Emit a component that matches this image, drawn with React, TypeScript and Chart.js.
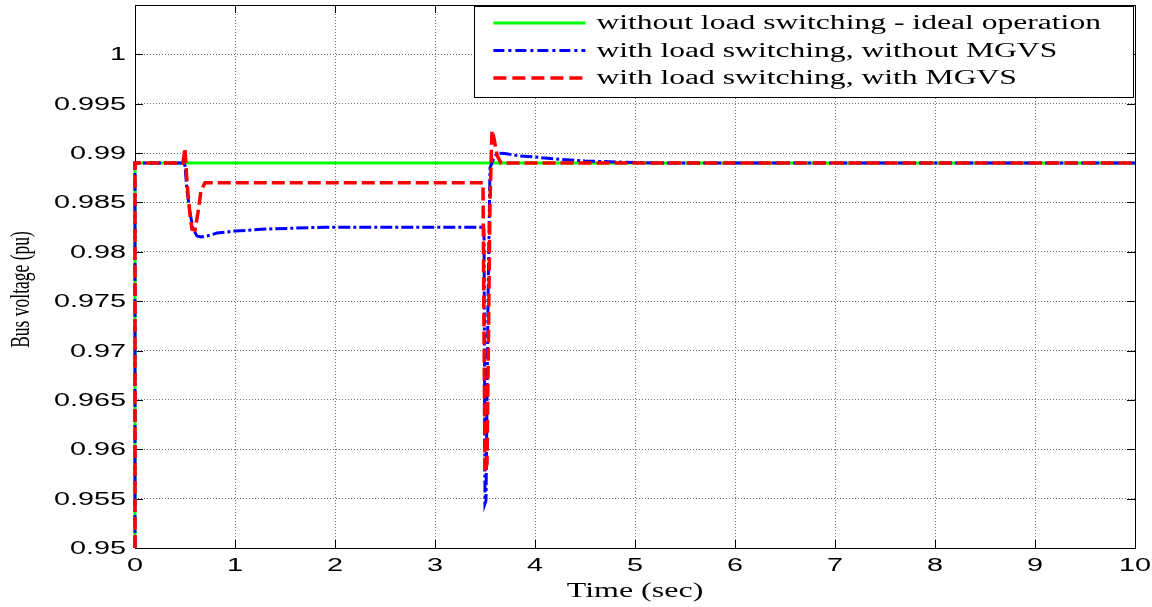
import React, { useEffect, useRef } from "react";
import { Chart, registerables } from "chart.js";

Chart.register(...registerables);

// ---------------- data ----------------
const seriesLabels = [
  "without load switching - ideal operation",
  "with load switching, without MGVS",
  "with load switching, with MGVS",
];

const idealTime = [0, 0, 10];
const idealVoltage = [0.95, 0.989, 0.989];

const noMgvsTime = [
  0, 0, 0.49, 0.5, 0.52, 0.55, 0.58, 0.62, 0.66, 0.72, 0.82, 1.0, 1.3, 1.6, 1.9,
  3.49, 3.5, 3.51, 3.53, 3.55, 3.58, 3.62, 3.7, 3.85, 4.0, 4.2, 4.5, 4.8, 5.2, 10,
];
const noMgvsVoltage = [
  0.95, 0.989, 0.989, 0.9887, 0.9862, 0.984, 0.9823, 0.9816, 0.9815, 0.9816, 0.9819,
  0.9821, 0.9823, 0.9824, 0.9825, 0.9825, 0.9545, 0.9548, 0.975, 0.9885, 0.9893,
  0.99, 0.98995, 0.9897, 0.9896, 0.9894, 0.9892, 0.9891, 0.989, 0.989,
];

const mgvsTime = [
  0, 0, 0.48, 0.5, 0.52, 0.55, 0.57, 0.6, 0.63, 0.66, 0.7, 3.48, 3.5, 3.52, 3.55,
  3.57, 3.59, 3.62, 3.66, 3.72, 10,
];
const mgvsVoltage = [
  0.95, 0.989, 0.989, 0.9905, 0.987, 0.9838, 0.9823, 0.9822, 0.984, 0.9862, 0.987,
  0.987, 0.9577, 0.9585, 0.985, 0.9923, 0.9915, 0.9898, 0.989, 0.989, 0.989,
];

const xMin = 0;
const xMax = 10;
const xStep = 1;
const yMin = 0.95;
const yMax = 1.005;
const yStep = 0.005;
const yLabelMax = 1.0;

const xTitle = "Time (sec)";
const yTitle = "Bus voltage (pu)";

// ---------------- styling ----------------
const SX = 1.6; // horizontal stretch of the original MATLAB export
const SX_LEGEND = 1.58;
const tickFont = '18px "Liberation Sans", Arial, sans-serif';
const titleFont = '20px "Liberation Serif", "Times New Roman", serif';
const yTitleFont = '17.5px "Liberation Serif", "Times New Roman", serif';
const legendFont = '20px "Liberation Serif", "Times New Roman", serif';

function pts(t: number[], v: number[]) {
  return t.map((x, i) => ({ x, y: v[i] }));
}

function fmt(v: number) {
  return String(Number(v.toFixed(3)));
}

function stretchText(
  ctx: CanvasRenderingContext2D,
  text: string,
  x: number,
  y: number,
  align: CanvasTextAlign,
  baseline: CanvasTextBaseline,
  sx: number = SX
) {
  ctx.save();
  ctx.translate(x, y);
  ctx.scale(sx, 1);
  ctx.textAlign = align;
  ctx.textBaseline = baseline;
  ctx.fillText(text, 0, 0);
  ctx.restore();
}

const matlabPlugin = {
  id: "matlabDecor",
  beforeDatasetsDraw(chart: any) {
    const { ctx, chartArea: a, scales } = chart;
    const xs = scales.x;
    const ys = scales.y;
    ctx.save();
    ctx.setLineDash([]);
    ctx.strokeStyle = "#000";
    ctx.lineWidth = 1;
    const tl = 8;
    ctx.beginPath();
    ys.ticks.forEach((t: any) => {
      const y = Math.round(ys.getPixelForValue(t.value)) + 0.5;
      ctx.moveTo(a.left, y);
      ctx.lineTo(a.left + tl, y);
      ctx.moveTo(a.right, y);
      ctx.lineTo(a.right - tl, y);
    });
    xs.ticks.forEach((t: any) => {
      const x = Math.round(xs.getPixelForValue(t.value)) + 0.5;
      ctx.moveTo(x, a.bottom);
      ctx.lineTo(x, a.bottom - tl);
      ctx.moveTo(x, a.top);
      ctx.lineTo(x, a.top + tl);
    });
    ctx.stroke();
    ctx.strokeRect(
      Math.round(a.left) + 0.5,
      Math.round(a.top) + 0.5,
      Math.round(a.right - a.left),
      Math.round(a.bottom - a.top)
    );
    ctx.restore();
  },
  afterDraw(chart: any) {
    const { ctx, chartArea: a, scales } = chart;
    const xs = scales.x;
    const ys = scales.y;
    ctx.save();
    ctx.setLineDash([]);

    // tick labels
    ctx.fillStyle = "#000";
    ctx.font = tickFont;
    ys.ticks.forEach((t: any) => {
      stretchText(ctx, fmt(t.value), a.left - 9, ys.getPixelForValue(t.value) + 1, "right", "middle");
    });
    xs.ticks.forEach((t: any) => {
      stretchText(ctx, fmt(t.value), xs.getPixelForValue(t.value), a.bottom + 18, "center", "middle");
    });

    // axis titles
    ctx.font = titleFont;
    stretchText(ctx, xTitle, (a.left + a.right) / 2, a.bottom + 44, "center", "middle");
    ctx.save();
    ctx.font = yTitleFont;
    ctx.translate(a.left - 113, (a.top + a.bottom) / 2 + 13);
    ctx.scale(SX, 1);
    ctx.rotate(-Math.PI / 2);
    ctx.textAlign = "center";
    ctx.textBaseline = "middle";
    ctx.fillText(yTitle, 0, 0);
    ctx.restore();

    // legend
    const ds = chart.data.datasets;
    ctx.font = legendFont;
    const textW = Math.max(...ds.map((d: any) => ctx.measureText(d.label).width)) * SX_LEGEND;
    const padL = 19;
    const sampleLen = 92;
    const gap = 11;
    const padR = 32;
    const boxW = padL + sampleLen + gap + textW + padR;
    const boxH = 91;
    const right = a.right - 2;
    const top = a.top + 1;
    const left = right - boxW;
    ctx.fillStyle = "#fff";
    ctx.fillRect(left, top, boxW, boxH);
    ctx.strokeStyle = "#000";
    ctx.lineWidth = 1;
    ctx.strokeRect(Math.round(left) + 0.5, Math.round(top) + 0.5, Math.round(boxW), boxH);
    ds.forEach((d: any, i: number) => {
      const y = top + 17 + i * 27.5;
      ctx.save();
      ctx.strokeStyle = d.borderColor;
      ctx.lineWidth = d.borderWidth;
      ctx.setLineDash(d.legendDash || []);
      ctx.beginPath();
      ctx.moveTo(left + padL, y);
      ctx.lineTo(left + padL + sampleLen, y);
      ctx.stroke();
      ctx.restore();
      ctx.fillStyle = "#000";
      stretchText(ctx, d.label, left + padL + sampleLen + gap, y + 1, "left", "middle", SX_LEGEND);
    });

    ctx.restore();
  },
};

export default function App() {
  const ref = useRef<HTMLCanvasElement | null>(null);

  useEffect(() => {
    if (!ref.current) return;
    const chart = new Chart(ref.current, {
      type: "line",
      data: {
        datasets: [
          {
            label: seriesLabels[0],
            data: pts(idealTime, idealVoltage),
            borderColor: "#00ff00",
            borderWidth: 3,
            pointRadius: 0,
            tension: 0,
            order: 2,
            clip: 4,
            legendDash: [],
          } as any,
          {
            label: seriesLabels[1],
            data: pts(noMgvsTime, noMgvsVoltage),
            borderColor: "#0000ff",
            borderWidth: 3,
            borderDash: [12, 3, 3, 3],
            pointRadius: 0,
            tension: 0,
            order: 1,
            clip: 4,
            legendDash: [11, 4, 3, 4],
          } as any,
          {
            label: seriesLabels[2],
            data: pts(mgvsTime, mgvsVoltage),
            borderColor: "#ff0000",
            borderWidth: 3.5,
            borderDash: [13, 5],
            pointRadius: 0,
            tension: 0,
            order: 0,
            clip: 4,
            legendDash: [13, 6],
          } as any,
        ],
      },
      options: {
        animation: false,
        responsive: false,
        events: [],
        layout: { padding: { left: 0, top: 5, right: 17, bottom: 0 } },
        plugins: { legend: { display: false }, tooltip: { enabled: false } },
        scales: {
          x: {
            type: "linear",
            min: xMin,
            max: xMax,
            ticks: { stepSize: xStep, display: false },
            grid: { color: "#707070", lineWidth: 1, drawTicks: false },
            border: { display: false, dash: [1, 2] },
            afterFit: (s: any) => {
              s.height = 59;
            },
          },
          y: {
            type: "linear",
            min: yMin,
            max: yMax,
            ticks: { stepSize: yStep, display: false },
            grid: { color: "#707070", lineWidth: 1, drawTicks: false },
            border: { display: false, dash: [1, 2] },
            afterBuildTicks: (s: any) => {
              s.ticks = s.ticks.filter((t: any) => t.value <= yLabelMax + 1e-6);
            },
            afterFit: (s: any) => {
              s.width = 135;
            },
          },
        },
      },
      plugins: [matlabPlugin],
    });
    return () => chart.destroy();
  }, []);

  return (
    <div style={{ position: "absolute", left: 0, top: 0, width: 1152, height: 607, background: "#fff" }}>
      <canvas ref={ref} width={1152} height={607} style={{ width: 1152, height: 607, display: "block" }} />
    </div>
  );
}
